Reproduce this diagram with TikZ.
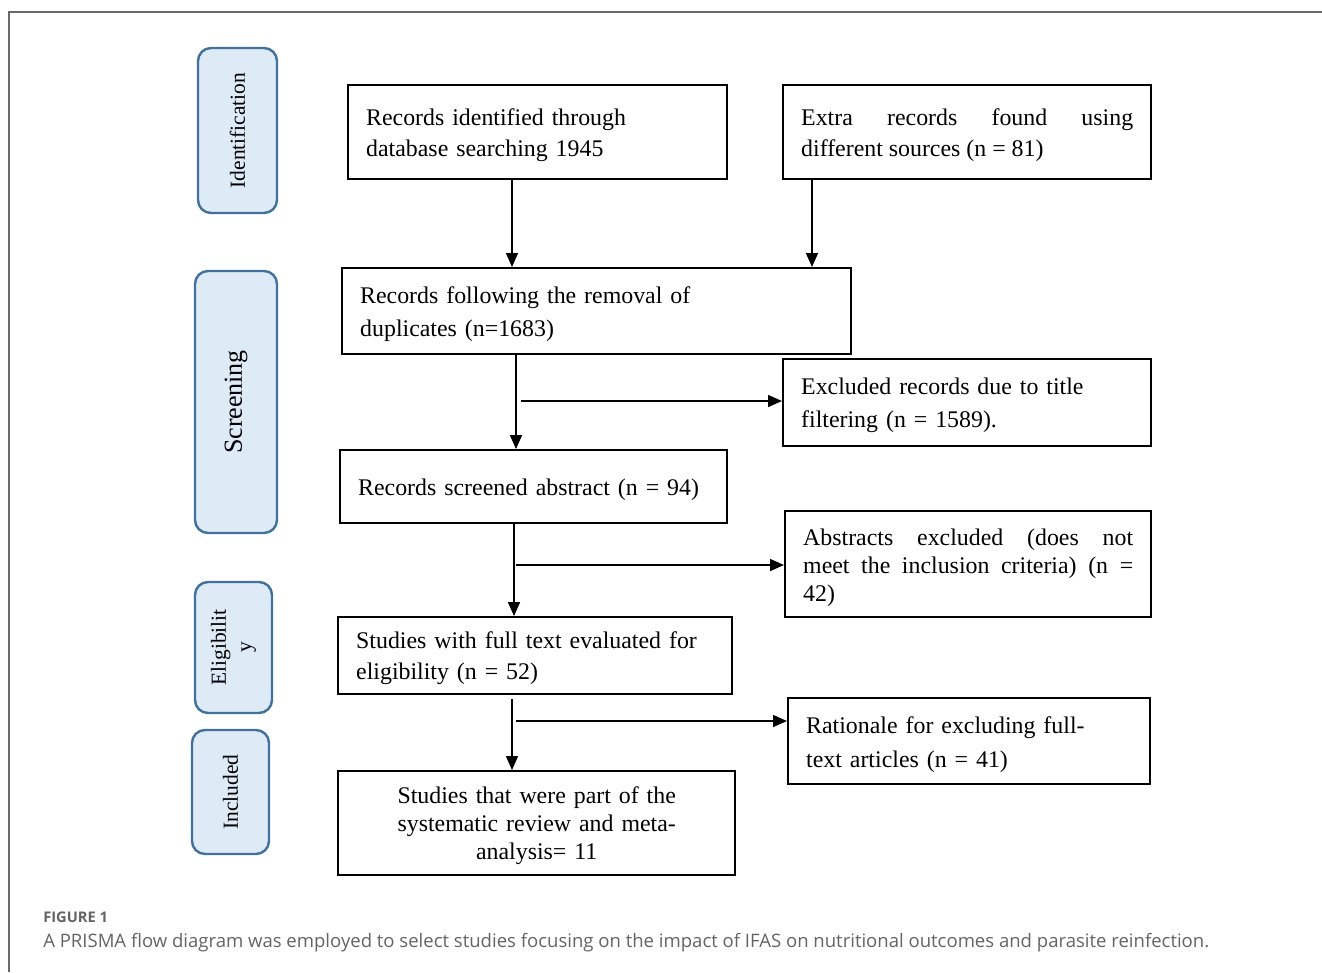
\documentclass[tikz,border=0pt]{standalone}
\usepackage{fontspec}
\setmainfont{Liberation Serif}
\newfontfamily\capfont{Open Sans}
\usetikzlibrary{arrows.meta}
\usetikzlibrary{positioning}

\definecolor{stagefill}{RGB}{222,234,246}
\definecolor{stageline}{RGB}{65,113,156}
\definecolor{framegray}{RGB}{105,105,105}
\definecolor{capgray}{RGB}{100,100,100}
\newdimen\pxu \pxu=0.75pt

\tikzset{
  flowbox/.style={draw, line width=2.4\pxu, anchor=north west, inner xsep=18\pxu, inner ysep=0pt,
    text width=#1\pxu, align=left, font=\fontsize{17.9}{23.25}\selectfont,
    execute at begin node={\rule{0pt}{17pt}}},
  stage/.style={draw=stageline, fill=stagefill, line width=2.4\pxu, rounded corners=13\pxu,
    rotate=90, inner sep=0pt, align=center, font=\fontsize{16.1}{19}\selectfont},
  flowarrow/.style={line width=1.1pt, -{Triangle[length=10.5pt, width=9pt]}},
}

\begin{document}
\begin{tikzpicture}[x=\pxu, y=-\pxu]
  \useasboundingbox (0,0) rectangle (1322,972);
  \draw[framegray, line width=1.5\pxu] (9,972) -- (9,12) -- (1322,12);

  % stages on the left
  \node[stage, minimum width=165\pxu, minimum height=79\pxu] (ident) at (237.5,130.5) {Identification};
  \node[stage, minimum width=262\pxu, minimum height=82\pxu, font=\fontsize{19.5}{22}\selectfont] (screen) at (236,402) {Screening};
  \node[stage, minimum width=131\pxu, minimum height=77\pxu] (elig) at (233.5,647.5) {Eligibilit\\y};
  \node[stage, minimum width=124\pxu, minimum height=77\pxu] (incl) at (230.5,792) {Included};

  % flow boxes
  \node[flowbox=343, minimum height=94\pxu] (dbrec) at (347,84)
    {Records identified through\\database searching 1945};
  \node[flowbox=332, minimum height=94\pxu, align=justify] (extrarec) at (782,84)
    {Extra records found using\linebreak different sources (n = 81)};
  \node[flowbox=473, minimum height=86\pxu, font=\fontsize{17.9}{24.75}\selectfont] (nodup) at (341,267)
    {Records following the removal of\\duplicates (n=1683)};
  \node[flowbox=332, minimum height=87\pxu, font=\fontsize{17.9}{24.75}\selectfont] (titleexcl) at (782,358)
    {Excluded records due to title\\filtering (n = 1589).};
  \node[flowbox=351, minimum height=73\pxu] (abstr) at (339,449)
    {Records screened abstract (n = 94)};
  \node[flowbox=330, minimum height=106\pxu, align=justify, font=\fontsize{17.9}{21}\selectfont] (abstrexcl) at (784,510)
    {Abstracts excluded (does not\linebreak meet the inclusion criteria) (n =\linebreak 42)};
  \node[flowbox=358, minimum height=77\pxu] (fulltext) at (337,616)
    {Studies with full text evaluated for\\eligibility (n = 52)};
  \node[flowbox=326, minimum height=86\pxu, font=\fontsize{17.9}{25.5}\selectfont] (fullexcl) at (787,697)
    {Rationale for excluding full-\\text articles (n = 41)};
  \node[flowbox=361, minimum height=104\pxu, align=center, font=\fontsize{17.9}{21}\selectfont] (incstud) at (337,770)
    {Studies that were part of the\\systematic review and meta-\\analysis= 11};

  % connectors
  \coordinate (xa) at (512,0);
  \coordinate (xb) at (812,0);
  \coordinate (xc) at (516,0);
  \coordinate (xe) at (514,0);
  \draw[flowarrow] (xa |- dbrec.south) -- (xa |- nodup.north);
  \draw[flowarrow] (xb |- extrarec.south) -- (xb |- nodup.north);
  \draw[flowarrow] (xc |- nodup.south) -- (xc |- abstr.north);
  \draw[flowarrow] (xe |- abstr.south) -- (xe |- fulltext.north);
  \draw[flowarrow] (xa |- fulltext.south) ++(0,4) -- (xa |- incstud.north);

  \coordinate (br1) at (521,401);
  \coordinate (br2) at (516,565);
  \coordinate (br3) at (516,721);
  \draw[flowarrow] (br1) -- (br1 -| titleexcl.west);
  \draw[flowarrow] (br2) -- (br2 -| abstrexcl.west);
  \draw[flowarrow] (br3) -- (br3 -| fullexcl.west);

  % caption
  \node[anchor=base west, inner sep=0pt, text=capgray, font=\capfont\fontsize{11}{12}\selectfont\bfseries] (figno) at (43,922) {FIGURE 1};
  \node[anchor=base west, inner sep=0pt, text=capgray, font=\capfont\fontsize{13.9}{16}\selectfont] (figcap) at (43,947)
    {A PRISMA flow diagram was employed to select studies focusing on the impact of IFAS on nutritional outcomes and parasite reinfection.};
\end{tikzpicture}
\end{document}
